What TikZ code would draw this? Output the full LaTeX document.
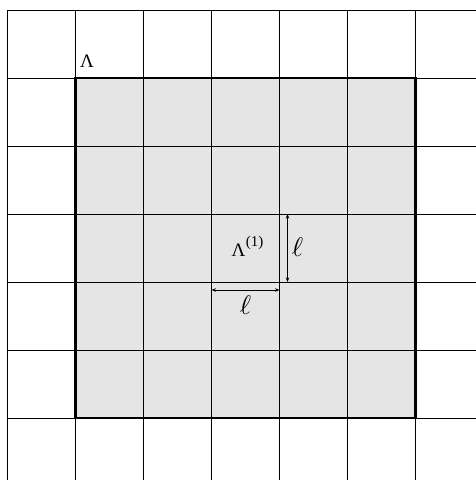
\documentclass[tikz,border=0pt]{standalone}
\usepackage{fontspec}
\setmainfont{Liberation Serif}
\usetikzlibrary{arrows.meta}
\begin{document}
\begin{tikzpicture}[x=1pt,y=-1pt,
  gridline/.style={line width=1pt},
  bigbox/.style={draw=black,line width=2.2pt},
  dimarrow/.style={line width=0.7pt,{Stealth[length=4.5pt,width=3.5pt]}-{Stealth[length=4.5pt,width=3.5pt]}},
  lbl/.style={inner sep=0pt},
  bigtxt/.style={font=\fontsize{19}{21}\selectfont}]
\useasboundingbox (0,0) rectangle (476,480);
% shaded region
\fill[black!10] (75.5,78) rectangle (415.5,418);
% grid
\foreach \x in {7.5,75.5,143.5,211.5,279.5,347.5,415.5}
  \draw[gridline] (\x,10) -- (\x,480);
\foreach \y in {10,78,146,214,282,350,418}
  \draw[gridline] (7.5,\y) -- (476,\y);
\draw[bigbox] (75.5,78) rectangle (415.5,418);
% labels
\node[lbl,bigtxt,anchor=base west] (lam) at (80,67.3) {Λ};
\node[lbl,bigtxt,anchor=base west] (lam1) at (231.5,256.7)
  {Λ\kern0.5pt\raisebox{10pt}{\fontsize{15}{16}\selectfont (1)}};
% dimension arrows
\coordinate (vt) at (287.5,214);
\coordinate (vb) at (287.5,282);
\coordinate (hl) at (211.5,290);
\coordinate (hr) at (279.5,290);
\draw[dimarrow] (vt) -- (vb);
\draw[dimarrow] (hl) -- (hr);
\node[lbl] (l1) at (297.5,247.5) {\scalebox{2.7}{$\ell$}};
\node[lbl] (l2) at (245.5,305.5) {\scalebox{2.7}{$\ell$}};
\end{tikzpicture}
\end{document}
